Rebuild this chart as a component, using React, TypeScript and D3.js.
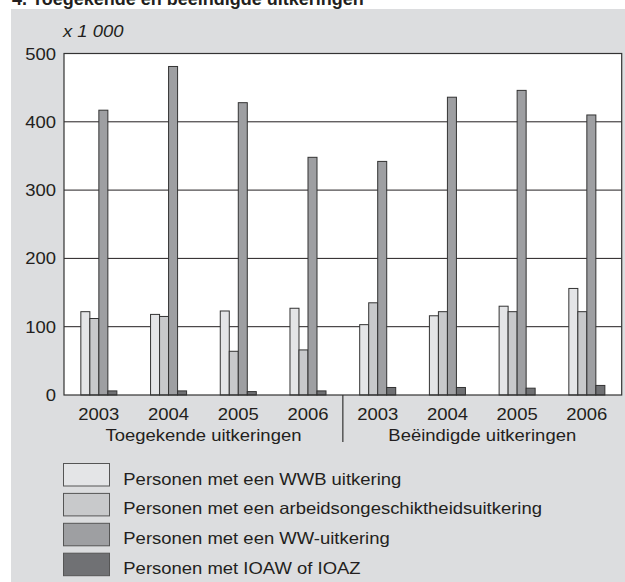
import React from "react";
import * as d3 from "d3";

const groups = ["T2003", "T2004", "T2005", "T2006", "B2003", "B2004", "B2005", "B2006"];
const yearLabels = ["2003", "2004", "2005", "2006", "2003", "2004", "2005", "2006"];
const sectionLabels = ["Toegekende uitkeringen", "Beëindigde uitkeringen"];
const seriesNames = [
  "Personen met een WWB uitkering",
  "Personen met een arbeidsongeschiktheidsuitkering",
  "Personen met een WW-uitkering",
  "Personen met IOAW of IOAZ",
];
const wwb = [122, 118, 123, 127, 103, 116, 130, 156];
const arbeid = [112, 115, 64, 66, 135, 122, 122, 122];
const ww = [417, 481, 428, 348, 342, 436, 446, 410];
const ioaw = [6, 6, 5, 6, 11, 11, 10, 14];
const yTicks = [0, 100, 200, 300, 400, 500];
const seriesValues = [wwb, arbeid, ww, ioaw];
const colors = ["#e4e5e7", "#c8c9cb", "#9e9fa2", "#707174"];

const W = 625;
const H = 582;
const left = 64;
const right = 621.7;
const top = 53.5;
const bottom = 395;
const FONT = "'Liberation Sans', Arial, sans-serif";
const FS = 16.5;
const SX = 1.12;

function T(props: {
  x: number;
  y: number;
  anchor?: "start" | "middle" | "end";
  italic?: boolean;
  children: React.ReactNode;
}) {
  return (
    <text
      transform={`translate(${props.x},${props.y}) scale(${SX},1)`}
      fontSize={FS}
      textAnchor={props.anchor || "start"}
      fontStyle={props.italic ? "italic" : "normal"}
      fill="#231f20"
    >
      {props.children}
    </text>
  );
}

export default function App() {
  const x0 = d3.scaleBand<string>().domain(groups).range([left, right]).padding(0);
  const x1 = d3
    .scaleBand<string>()
    .domain(seriesNames)
    .range([0, x0.bandwidth()])
    .paddingInner(0)
    .paddingOuter(1.87);
  const y = d3.scaleLinear().domain([0, 500]).range([bottom, top]);
  const sepX = x0(groups[4]) as number;

  return (
    <div style={{ position: "absolute", left: 0, top: 0 }}>
      <svg width={W} height={H} style={{ display: "block" }} fontFamily={FONT}>
        <rect x={0} y={0} width={W} height={H} fill="#ffffff" />
        <rect x={11} y={9} width={W - 11} height={H - 9} fill="#dcdddf" />
        <text x={12} y={4.5} fontSize={18} fontWeight="bold" fill="#231f20">
          4.  Toegekende en beëindigde uitkeringen
        </text>
        <T x={63} y={37} italic>
          x 1 000
        </T>
        <rect x={left} y={top} width={right - left} height={bottom - top} fill="#ffffff" />
        {yTicks.map((t) => (
          <g key={t}>
            {t > 0 && t < 500 && (
              <line x1={left} x2={right} y1={y(t)} y2={y(t)} stroke="#231f20" strokeWidth={1} />
            )}
            <T x={56} y={y(t) + 6} anchor="end">
              {t}
            </T>
          </g>
        ))}
        {groups.map((g, gi) =>
          seriesNames.map((s, si) => {
            const v = seriesValues[si][gi];
            const bx = (x0(g) as number) + (x1(s) as number);
            return (
              <rect
                key={g + s}
                x={bx}
                y={y(v)}
                width={x1.bandwidth()}
                height={bottom - y(v)}
                fill={colors[si]}
                stroke="#333333"
                strokeWidth={1}
              />
            );
          })
        )}
        <rect
          x={left}
          y={top}
          width={right - left}
          height={bottom - top}
          fill="none"
          stroke="#333333"
          strokeWidth={1.2}
        />
        <line x1={sepX} x2={sepX} y1={bottom} y2={442} stroke="#333333" strokeWidth={1.2} />
        {groups.map((g, gi) => (
          <T key={g} x={(x0(g) as number) + x0.bandwidth() / 2} y={420} anchor="middle">
            {yearLabels[gi]}
          </T>
        ))}
        {sectionLabels.map((l, i) => (
          <T
            key={l}
            x={((x0(groups[i * 4]) as number) + (x0(groups[i * 4 + 3]) as number) + x0.bandwidth()) / 2}
            y={440.5}
            anchor="middle"
          >
            {l}
          </T>
        ))}
        {seriesNames.map((s, i) => {
          const by = 463.5 + i * 29.9;
          return (
            <g key={s}>
              <rect
                x={63.5}
                y={by}
                width={46}
                height={22.5}
                fill={colors[i]}
                stroke="#555555"
                strokeWidth={1}
              />
              <T x={123.3} y={by + 21}>
                {s}
              </T>
            </g>
          );
        })}
      </svg>
    </div>
  );
}
